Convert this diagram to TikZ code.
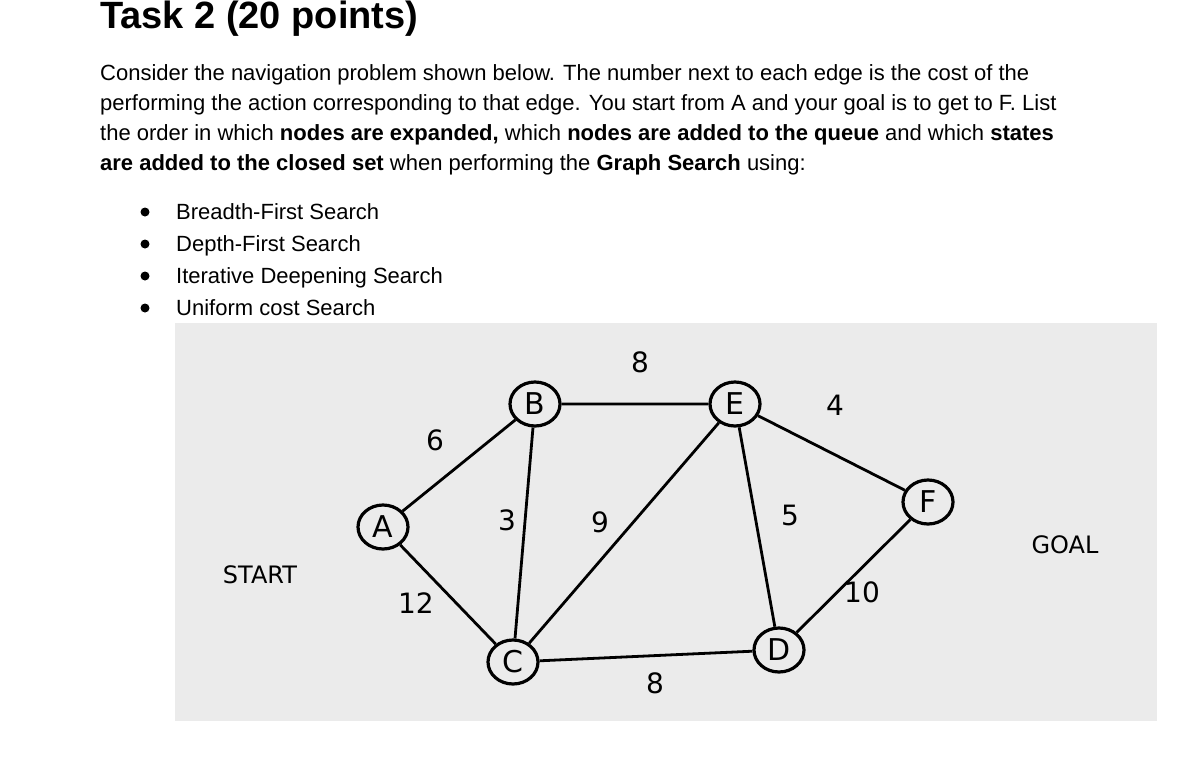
\documentclass[tikz,border=0pt]{standalone}
\usepackage{fontspec}
\usetikzlibrary{shapes.geometric}
\setmainfont{Liberation Sans}
\newfontfamily\hand{DejaVu Sans}
\begin{document}
\begin{tikzpicture}[x=1pt,y=-1pt,
  txt/.style={anchor=base west,inner sep=0pt,font=\fontsize{22}{26}\selectfont},
  st/.style={draw,ellipse,line width=3.2pt,minimum width=50pt,minimum height=44pt,inner sep=0pt,font=\hand\fontsize{30}{32}\selectfont},
  ed/.style={line width=2.8pt},
  lab/.style={font=\hand\fontsize{28}{30}\selectfont,inner sep=0pt}]
\useasboundingbox (0,0) rectangle (1187,756);
\fill[white] (0,0) rectangle (1187,756);
\node[txt,font=\bfseries\fontsize{38}{40}\selectfont] (title) at (100,28) {Task 2 (20 points)};
\node[txt] (l1) at (100,80) {Consider the navigation problem shown below. The number next to each edge is the cost of the};
\node[txt] (l2) at (100,110) {performing the action corresponding to that edge. You start from A and your goal is to get to F. List};
\node[txt] (l3) at (100,140) {the order in which \textbf{nodes are expanded,} which \textbf{nodes are added to the queue} and which \textbf{states}};
\node[txt] (l4) at (100,170) {\textbf{are added to the closed set} when performing the \textbf{Graph Search} using:};
\foreach \t/\yy in {Breadth-First Search/219,Depth-First Search/251,Iterative Deepening Search/283,Uniform cost Search/315}{
  \fill (145,\yy-7) circle (4.5pt);
  \node[txt] at (176,\yy) {\t};}
\fill[black!8] (175,323) rectangle (1157,721);
\node[st] (A) at (383,527) {A};
\node[st] (B) at (535,404) {B};
\node[st] (E) at (735,404) {E};
\node[st] (F) at (928,502) {F};
\node[st] (C) at (513,662) {C};
\node[st] (D) at (779,650) {D};
\draw[ed] (A)--(B) (A)--(C) (B)--(C) (B)--(E) (E)--(C) (E)--(D) (E)--(F) (F)--(D) (C)--(D);
\node[lab] at (640,362) {8};
\node[lab] at (835,405) {4};
\node[lab] at (435,440) {6};
\node[lab] at (507,520) {3};
\node[lab] at (600,522) {9};
\node[lab] at (790,515) {5};
\node[lab] at (416,603) {12};
\node[lab] at (862,592) {10};
\node[lab] at (655,683) {8};
\node[lab] (start) at (260,575) {\fontsize{24}{26}\selectfont START};
\node[lab] (goal) at (1065,545) {\fontsize{24}{26}\selectfont GOAL};
\end{tikzpicture}
\end{document}
